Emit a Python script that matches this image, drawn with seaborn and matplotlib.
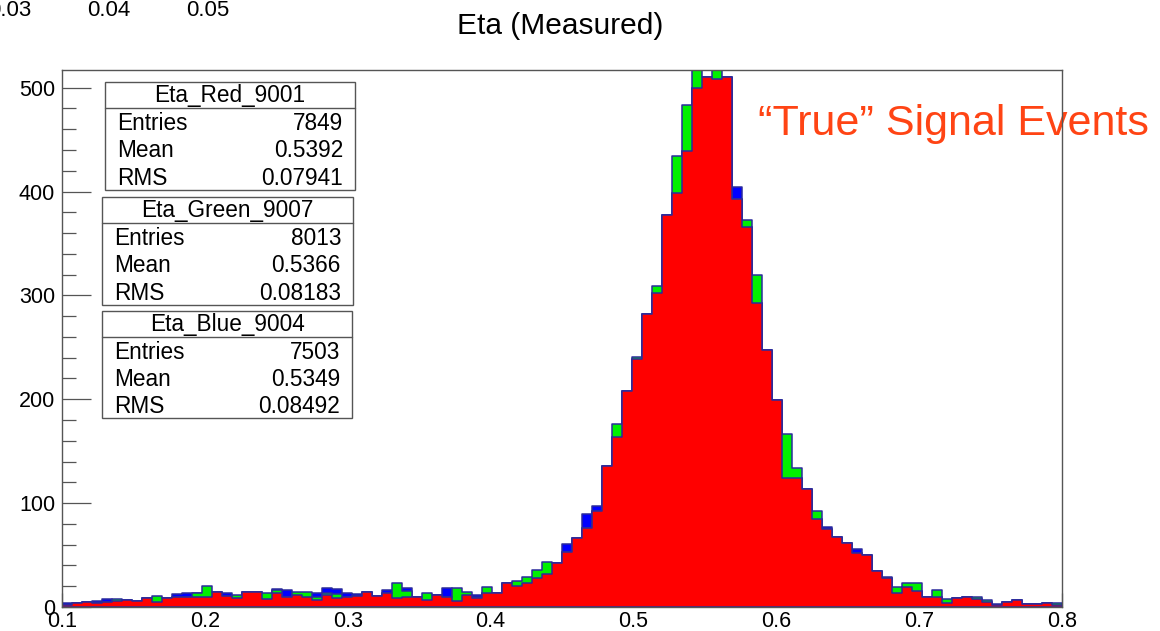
import numpy as np
import pandas as pd
import matplotlib
import matplotlib.pyplot as plt
from matplotlib.patches import Rectangle
from matplotlib.lines import Line2D
import seaborn as sns

matplotlib.use('Agg')

# 100 bins from 0.1 to 0.8, counts
bin_lo, bin_hi, n_bins = 0.1, 0.8, 100

red = [2, 4, 5, 4, 5, 6, 6.7, 6, 8.3, 5,
       8.3, 10, 10, 9.3, 9.3, 14, 11, 8.3, 14, 14.8,
       7.4, 13, 9.3, 11.6, 10, 6.7, 11.6, 8.3, 9.3, 10.6,
       14.8, 10.6, 13, 8.3, 10, 10, 6.7, 11.6, 10, 5.8,
       11.6, 8.3, 13, 13, 22.8, 20.5, 22.8, 28.2, 31.5, 42,
       53, 66, 76, 92, 136, 163.5, 208, 239, 282, 302,
       377, 399, 439, 500, 510, 508, 510, 393, 366, 292.6,
       247, 199, 124, 124, 114, 84.5, 75.5, 67, 62, 52,
       50.5, 35, 27.6, 13.8, 19.6, 15.4, 9.3, 9.3, 3.5, 8.3,
       9.3, 7.7, 4.8, 2, 5, 6.7, 2.6, 2.9, 3.5, 2]

green = [2, 4, 5, 4, 5, 7.4, 6.7, 6, 8.3, 10.6,
         8.3, 10, 10, 13, 20, 14, 11, 11.6, 14, 14.8,
         13, 16.4, 9.3, 14.8, 14.8, 10, 13, 12.6, 9.3, 10.6,
         14.8, 10.6, 13, 23, 15.7, 10, 13, 11.6, 10, 18,
         14, 10, 19.6, 13, 22.8, 25.3, 28.6, 35.6, 43, 42,
         53, 66, 76, 92, 136, 176, 208, 241, 282, 309.5,
         377, 434, 483, 530, 510, 525, 510, 393, 373, 319.5,
         247, 199, 167, 134, 114, 92, 75.5, 67, 62, 52,
         50.5, 35, 29, 19.6, 22.8, 22.8, 9.3, 16.4, 7.4, 8.3,
         9.3, 9.3, 6.7, 2, 5, 6.7, 2.6, 2.9, 3.5, 3.5]

blue = [3.5, 4, 5, 6, 7.4, 6, 6.7, 6, 8.3, 5,
        8.3, 12.5, 13, 13.8, 9.3, 14, 13, 8.3, 14.8, 14.8,
        7.4, 17.3, 16.4, 11.6, 10, 13.8, 18, 17, 13.8, 12.5,
        14.8, 10.6, 16.4, 8.3, 18.6, 10, 6.7, 11.6, 18, 5.8,
        11.6, 11.6, 13, 13, 22.8, 20.5, 22.8, 28.2, 31.5, 42,
        60.4, 66, 89.6, 97.6, 136, 163.5, 208, 239, 282, 302,
        377, 399, 439, 500, 510, 508, 510, 404, 366, 292.6,
        247, 199, 124, 124, 114, 84.5, 77, 67, 62, 55.6,
        50.5, 35, 27.6, 13.8, 19.6, 15.4, 9.3, 9.3, 3.5, 8.3,
        9.3, 7.7, 4.8, 3, 5, 6.7, 2.6, 2.9, 3.5, 2]

# stat boxes (same order as drawn top to bottom)
stat_names = ["Eta_Red_9001", "Eta_Green_9007", "Eta_Blue_9004"]
stat_entries = ["7849", "8013", "7503"]
stat_means = ["0.5392", "0.5366", "0.5349"]
stat_rms = ["0.07941", "0.08183", "0.08492"]

sns.set_style("ticks")
plt.rcParams['font.family'] = ['Liberation Sans', 'DejaVu Sans']
plt.rcParams['text.color'] = 'black'
plt.rcParams['xtick.labelcolor'] = 'black'
plt.rcParams['ytick.labelcolor'] = 'black'

W, H = 1160, 631
fig = plt.figure(figsize=(W / 100, H / 100), dpi=100)


def fx(px):
    return px / W


def fy(py):
    return 1 - py / H


ax = fig.add_axes([fx(62), fy(607), fx(1062) - fx(62), fy(70) - fy(607)])

edges = list(np.linspace(bin_lo, bin_hi, n_bins + 1))
centers = [(a + b) / 2 for a, b in zip(edges[:-1], edges[1:])]

# draw order: blue, green, then red on top
for vals, col in [(blue, '#0000ff'), (green, '#00f000'), (red, '#ff0000')]:
    df = pd.DataFrame({"eta": centers, "count": vals})
    sns.histplot(data=df, x="eta", weights="count", bins=edges, element="step",
                 fill=True, color=col, alpha=1, edgecolor='#2b2b9c', linewidth=1.1,
                 ax=ax)

ax.set_xlim(bin_lo, bin_hi)
ax.set_ylim(0, 517)
ax.set_xlabel("")
ax.set_ylabel("")
ax.set_xticks(np.arange(0.1, 0.81, 0.1))
ax.set_xticklabels([f"{v:.1f}" for v in np.arange(0.1, 0.81, 0.1)])
ax.set_yticks(np.arange(0, 501, 100))
ax.set_yticks(np.arange(0, 517, 20), minor=True)
ax.tick_params(axis='y', which='major', direction='in', length=21, width=0.9,
               color='#555555', labelsize=15.5, pad=5)
ax.tick_params(axis='y', which='minor', direction='in', length=10, width=0.9,
               color='#555555')
ax.tick_params(axis='x', which='major', direction='in', length=10, width=0.9,
               color='#555555', labelsize=15.5, pad=3)
ax.set_axisbelow(True)
for s in ax.spines.values():
    s.set_color('#555555')
    s.set_linewidth(1.0)

fig.text(fx(560), fy(26), "Eta (Measured)", ha='center', va='center', fontsize=21.5)

# stray labels of a neighbouring pad, cut off at the top-left
for lab, px in [("0.03", 10), ("0.04", 109), ("0.05", 208)]:
    fig.text(fx(px), fy(10), lab, ha='center', va='center', fontsize=16)

ax.text(fx(758), fy(124), "\u201cTrue\u201d Signal Events", transform=fig.transFigure,
        ha='left', va='center', fontsize=31, color='#ff4414', zorder=1, clip_on=False)

# stats boxes, in pixel coordinates
boxes = [(105, 355, 82, 190), (102, 353, 197, 305), (102, 352, 311, 418)]
for (x0, x1, y0, y1), name, ent, mean, rms in zip(boxes, stat_names, stat_entries,
                                                  stat_means, stat_rms):
    fig.add_artist(Rectangle((fx(x0), fy(y1)), fx(x1) - fx(x0), fy(y0) - fy(y1),
                             transform=fig.transFigure, facecolor='white',
                             edgecolor='#555555', linewidth=1.0, zorder=5))
    hdr = y0 + (y1 - y0) * 0.24
    fig.add_artist(Line2D([fx(x0), fx(x1)], [fy(hdr), fy(hdr)], color='#555555',
                          linewidth=1.0, transform=fig.transFigure, zorder=6))
    fig.text(fx((x0 + x1) / 2), fy((y0 + hdr) / 2 + 1), name, ha='center', va='center',
             fontsize=16.3, zorder=7)
    row_h = (y1 - hdr) / 3
    for k, (lab, val) in enumerate([("Entries", ent), ("Mean", mean), ("RMS", rms)]):
        yy = hdr + row_h * (k + 0.5) + 2
        fig.text(fx(x0 + 12), fy(yy), lab, ha='left', va='center', fontsize=16.3, zorder=7)
        fig.text(fx(x1 - 12), fy(yy), val, ha='right', va='center', fontsize=16.3, zorder=7)

fig.savefig("out.png", dpi=100)
plt.close(fig)
